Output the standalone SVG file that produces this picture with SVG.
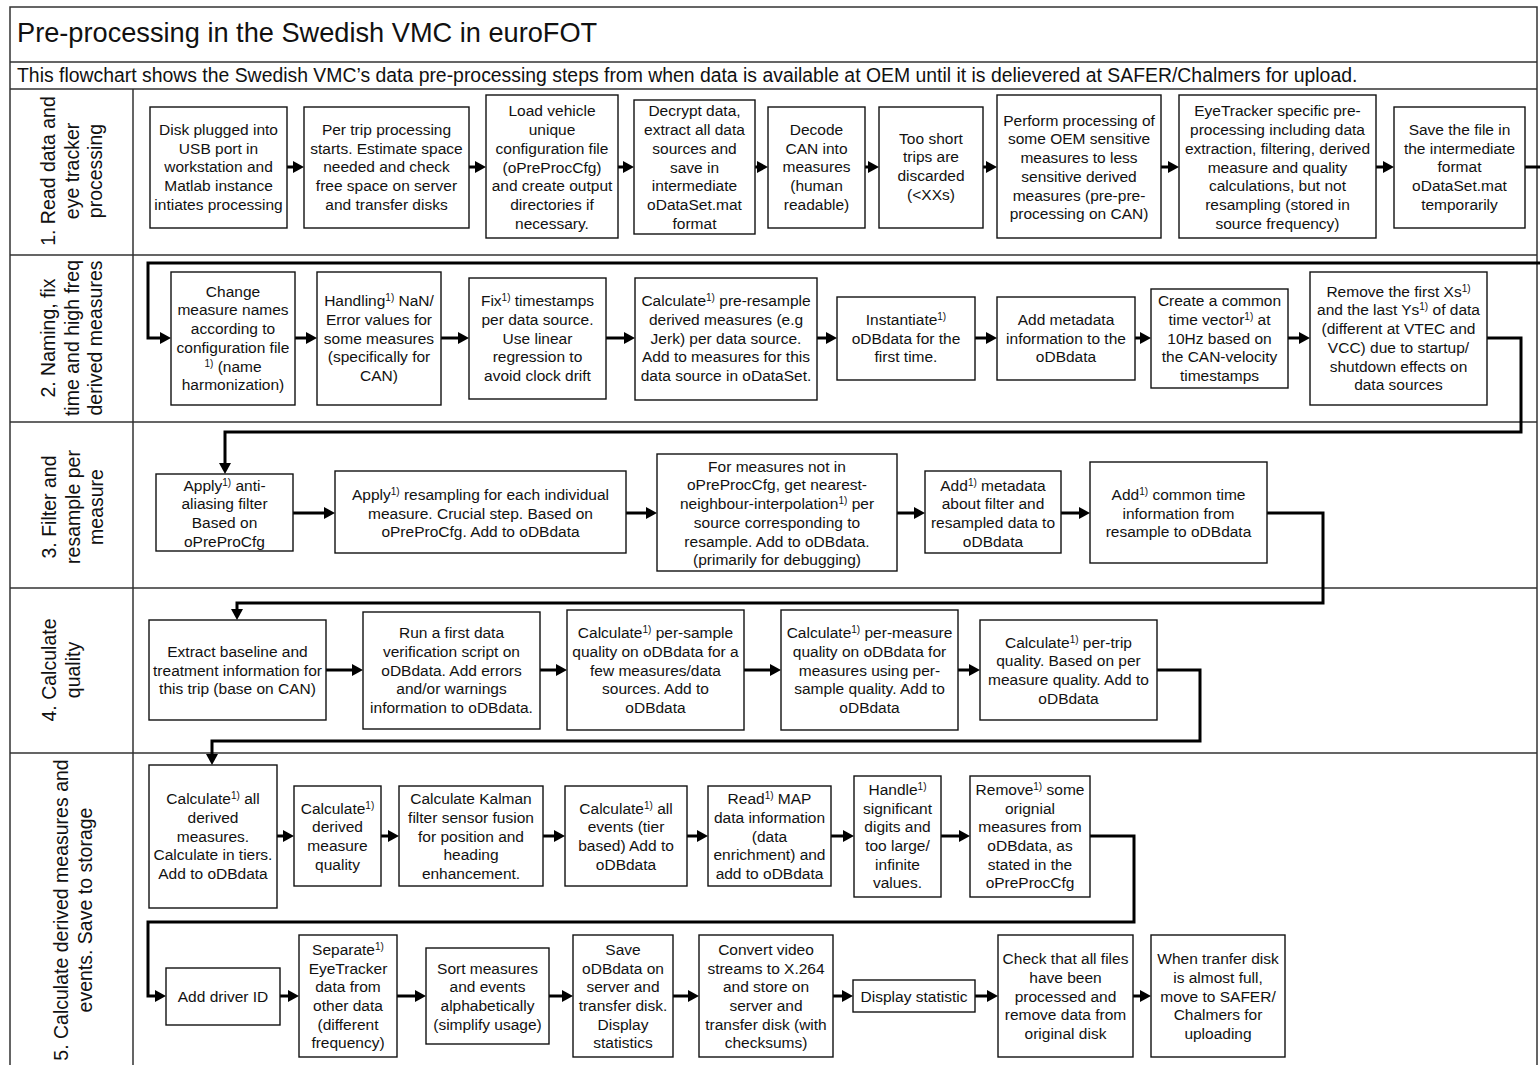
<svg xmlns="http://www.w3.org/2000/svg" width="1540" height="1065" viewBox="0 0 1540 1065">
<style>
.frame{fill:none;stroke:#333;stroke-width:1.5}
.box{fill:#fff;stroke:#111;stroke-width:1.4}
.t{font-family:"Liberation Sans",Arial,sans-serif;font-size:15.5px;text-anchor:middle;fill:#111}
.s{font-size:10px}
.lane{font-family:"Liberation Sans",Arial,sans-serif;font-size:19.5px;text-anchor:middle;fill:#111}
.c{fill:none;stroke:#000;stroke-width:3;marker-end:url(#ah)}
</style>
<defs>
<marker id="ah" viewBox="0 0 11 12" refX="5" refY="6" markerWidth="11" markerHeight="12" markerUnits="userSpaceOnUse" orient="auto">
<path d="M0,0 L11,6 L0,12 z" fill="#000"/>
</marker>
</defs>
<rect width="1540" height="1065" fill="#fff"/>
<g id="frame">
<path class="frame" d="M10,1070 V7 H1537 V1070"/>
<path class="frame" d="M10,62 H1537 M10,89 H1537 M10,255 H1537 M10,422 H1537 M10,588 H1537 M10,753 H1537 M133,89 V1070"/>
<text x="17" y="42" font-family="Liberation Sans,Arial,sans-serif" font-size="27.2" fill="#111">Pre-processing in the Swedish VMC in euroFOT</text>
<text x="17" y="82" font-family="Liberation Sans,Arial,sans-serif" font-size="19.4" fill="#111">This flowchart shows the Swedish VMC’s data pre-processing steps from when data is available at OEM until it is delievered at SAFER/Chalmers for upload.</text>
</g>
<g id="lane-labels">
<text class="lane" transform="translate(0,171) rotate(-90)"><tspan x="0" y="55">1. Read data and</tspan><tspan x="0" y="78.5">eye tracker</tspan><tspan x="0" y="102">processing</tspan></text>
<text class="lane" transform="translate(0,338) rotate(-90)"><tspan x="0" y="55">2. Naming, fix</tspan><tspan x="0" y="78.5">time and high freq</tspan><tspan x="0" y="102">derived measures</tspan></text>
<text class="lane" transform="translate(0,507) rotate(-90)"><tspan x="0" y="56">3. Filter and</tspan><tspan x="0" y="79.5">resample per</tspan><tspan x="0" y="103">measure</tspan></text>
<text class="lane" transform="translate(0,670) rotate(-90)"><tspan x="0" y="56">4. Calculate</tspan><tspan x="0" y="79.5">quality</tspan></text>
<text class="lane" transform="translate(0,910) rotate(-90)"><tspan x="0" y="68">5. Calculate derived measures and</tspan><tspan x="0" y="91.5">events. Save to storage</tspan></text>
</g>
<g id="connectors">
<path class="c" d="M287,167 H298"/>
<path class="c" d="M469,167 H480"/>
<path class="c" d="M618,167 H628"/>
<path class="c" d="M755,167 H762"/>
<path class="c" d="M865,167 H873"/>
<path class="c" d="M983,167 H991"/>
<path class="c" d="M1161,167 H1173"/>
<path class="c" d="M1376,167 H1388"/>
<path class="c" d="M1525,167 H1560 V263 H148 V338 H165"/>
<path class="c" d="M295,338 H311"/>
<path class="c" d="M441,338 H463"/>
<path class="c" d="M606,338 H629"/>
<path class="c" d="M817,338 H831"/>
<path class="c" d="M975,338 H991"/>
<path class="c" d="M1135,338 H1145"/>
<path class="c" d="M1288,338 H1304"/>
<path class="c" d="M1487,338 H1521 V432 H225 V468"/>
<path class="c" d="M293,513 H329"/>
<path class="c" d="M626,513 H651"/>
<path class="c" d="M897,513 H919"/>
<path class="c" d="M1061,513 H1084"/>
<path class="c" d="M1267,513 H1323 V603 H237 V614"/>
<path class="c" d="M326,670 H357"/>
<path class="c" d="M540,670 H561"/>
<path class="c" d="M744,670 H775"/>
<path class="c" d="M958,670 H974"/>
<path class="c" d="M1157,670 H1200 V741 H212 V759"/>
<path class="c" d="M277,836 H288"/>
<path class="c" d="M381,836 H393"/>
<path class="c" d="M543,836 H559"/>
<path class="c" d="M687,836 H702"/>
<path class="c" d="M831,836 H848"/>
<path class="c" d="M941,836 H964"/>
<path class="c" d="M1090,836 H1134 V922 H148 V996 H160"/>
<path class="c" d="M280,996 H293"/>
<path class="c" d="M397,996 H420"/>
<path class="c" d="M549,996 H567"/>
<path class="c" d="M673,996 H693"/>
<path class="c" d="M833,996 H847"/>
<path class="c" d="M975,996 H992"/>
<path class="c" d="M1133,996 H1145"/>
</g>
<g id="n1-1"><rect class="box" x="150" y="107" width="137" height="121"/><text class="t" y="135"><tspan x="218.5">Disk plugged into</tspan><tspan x="218.5" dy="18.7">USB port in</tspan><tspan x="218.5" dy="18.7">workstation and</tspan><tspan x="218.5" dy="18.7">Matlab instance</tspan><tspan x="218.5" dy="18.7">intiates processing</tspan></text></g>
<g id="n1-2"><rect class="box" x="304" y="107" width="165" height="121"/><text class="t" y="135"><tspan x="386.5">Per trip processing</tspan><tspan x="386.5" dy="18.7">starts. Estimate space</tspan><tspan x="386.5" dy="18.7">needed and check</tspan><tspan x="386.5" dy="18.7">free space on server</tspan><tspan x="386.5" dy="18.7">and transfer disks</tspan></text></g>
<g id="n1-3"><rect class="box" x="486" y="95" width="132" height="143"/><text class="t" y="116.4"><tspan x="552">Load vehicle</tspan><tspan x="552" dy="18.7">unique</tspan><tspan x="552" dy="18.7">configuration file</tspan><tspan x="552" dy="18.7">(oPreProcCfg)</tspan><tspan x="552" dy="18.7">and create output</tspan><tspan x="552" dy="18.7">directories if</tspan><tspan x="552" dy="18.7">necessary.</tspan></text></g>
<g id="n1-4"><rect class="box" x="634" y="100" width="121" height="134"/><text class="t" y="116.4"><tspan x="694.5">Decrypt data,</tspan><tspan x="694.5" dy="18.7">extract all data</tspan><tspan x="694.5" dy="18.7">sources and</tspan><tspan x="694.5" dy="18.7">save in</tspan><tspan x="694.5" dy="18.7">intermediate</tspan><tspan x="694.5" dy="18.7">oDataSet.mat</tspan><tspan x="694.5" dy="18.7">format</tspan></text></g>
<g id="n1-5"><rect class="box" x="768" y="107" width="97" height="121"/><text class="t" y="135"><tspan x="816.5">Decode</tspan><tspan x="816.5" dy="18.7">CAN into</tspan><tspan x="816.5" dy="18.7">measures</tspan><tspan x="816.5" dy="18.7">(human</tspan><tspan x="816.5" dy="18.7">readable)</tspan></text></g>
<g id="n1-6"><rect class="box" x="879" y="107" width="104" height="121"/><text class="t" y="143.5"><tspan x="931">Too short</tspan><tspan x="931" dy="18.7">trips are</tspan><tspan x="931" dy="18.7">discarded</tspan><tspan x="931" dy="18.7">(&lt;XXs)</tspan></text></g>
<g id="n1-7"><rect class="box" x="997" y="95" width="164" height="143"/><text class="t" y="125.7"><tspan x="1079">Perform processing of</tspan><tspan x="1079" dy="18.7">some OEM sensitive</tspan><tspan x="1079" dy="18.7">measures to less</tspan><tspan x="1079" dy="18.7">sensitive derived</tspan><tspan x="1079" dy="18.7">measures (pre-pre-</tspan><tspan x="1079" dy="18.7">processing on CAN)</tspan></text></g>
<g id="n1-8"><rect class="box" x="1179" y="95" width="197" height="143"/><text class="t" y="116.4"><tspan x="1277.5">EyeTracker specific pre-</tspan><tspan x="1277.5" dy="18.7">processing including data</tspan><tspan x="1277.5" dy="18.7">extraction, filtering, derived</tspan><tspan x="1277.5" dy="18.7">measure and quality</tspan><tspan x="1277.5" dy="18.7">calculations, but not</tspan><tspan x="1277.5" dy="18.7">resampling (stored in</tspan><tspan x="1277.5" dy="18.7">source frequency)</tspan></text></g>
<g id="n1-9"><rect class="box" x="1394" y="107" width="131" height="121"/><text class="t" y="135"><tspan x="1459.5">Save the file in</tspan><tspan x="1459.5" dy="18.7">the intermediate</tspan><tspan x="1459.5" dy="18.7">format</tspan><tspan x="1459.5" dy="18.7">oDataSet.mat</tspan><tspan x="1459.5" dy="18.7">temporarily</tspan></text></g>
<g id="n2-1"><rect class="box" x="171" y="272" width="124" height="133"/><text class="t" y="296.7"><tspan x="233">Change</tspan><tspan x="233" dy="18.7">measure names</tspan><tspan x="233" dy="18.7">according to</tspan><tspan x="233" dy="18.7">configuration file</tspan><tspan x="233" dy="18.7"><tspan class="s" baseline-shift="super">1)</tspan> (name</tspan><tspan x="233" dy="18.7">harmonization)</tspan></text></g>
<g id="n2-2"><rect class="box" x="317" y="272" width="124" height="133"/><text class="t" y="306.1"><tspan x="379">Handling<tspan class="s" baseline-shift="super">1)</tspan> NaN/</tspan><tspan x="379" dy="18.7">Error values for</tspan><tspan x="379" dy="18.7">some measures</tspan><tspan x="379" dy="18.7">(specifically for</tspan><tspan x="379" dy="18.7">CAN)</tspan></text></g>
<g id="n2-3"><rect class="box" x="469" y="278" width="137" height="121"/><text class="t" y="306.1"><tspan x="537.5">Fix<tspan class="s" baseline-shift="super">1)</tspan> timestamps</tspan><tspan x="537.5" dy="18.7">per data source.</tspan><tspan x="537.5" dy="18.7">Use linear</tspan><tspan x="537.5" dy="18.7">regression to</tspan><tspan x="537.5" dy="18.7">avoid clock drift</tspan></text></g>
<g id="n2-4"><rect class="box" x="635" y="278" width="182" height="122"/><text class="t" y="306.1"><tspan x="726">Calculate<tspan class="s" baseline-shift="super">1)</tspan> pre-resample</tspan><tspan x="726" dy="18.7">derived measures (e.g</tspan><tspan x="726" dy="18.7">Jerk) per data source.</tspan><tspan x="726" dy="18.7">Add to measures for this</tspan><tspan x="726" dy="18.7">data source in oDataSet.</tspan></text></g>
<g id="n2-5"><rect class="box" x="837" y="297" width="138" height="83"/><text class="t" y="324.8"><tspan x="906">Instantiate<tspan class="s" baseline-shift="super">1)</tspan></tspan><tspan x="906" dy="18.7">oDBdata for the</tspan><tspan x="906" dy="18.7">first time.</tspan></text></g>
<g id="n2-6"><rect class="box" x="997" y="297" width="138" height="83"/><text class="t" y="324.8"><tspan x="1066">Add metadata</tspan><tspan x="1066" dy="18.7">information to the</tspan><tspan x="1066" dy="18.7">oDBdata</tspan></text></g>
<g id="n2-7"><rect class="box" x="1151" y="289" width="137" height="99"/><text class="t" y="306.1"><tspan x="1219.5">Create a common</tspan><tspan x="1219.5" dy="18.7">time vector<tspan class="s" baseline-shift="super">1)</tspan> at</tspan><tspan x="1219.5" dy="18.7">10Hz based on</tspan><tspan x="1219.5" dy="18.7">the CAN-velocity</tspan><tspan x="1219.5" dy="18.7">timestamps</tspan></text></g>
<g id="n2-8"><rect class="box" x="1310" y="272" width="177" height="133"/><text class="t" y="296.7"><tspan x="1398.5">Remove the first Xs<tspan class="s" baseline-shift="super">1)</tspan></tspan><tspan x="1398.5" dy="18.7">and the last Ys<tspan class="s" baseline-shift="super">1)</tspan> of data</tspan><tspan x="1398.5" dy="18.7">(different at VTEC and</tspan><tspan x="1398.5" dy="18.7">VCC) due to startup/</tspan><tspan x="1398.5" dy="18.7">shutdown effects on</tspan><tspan x="1398.5" dy="18.7">data sources</tspan></text></g>
<g id="n3-1"><rect class="box" x="156" y="474" width="137" height="77"/><text class="t" y="490.5"><tspan x="224.5">Apply<tspan class="s" baseline-shift="super">1)</tspan> anti-</tspan><tspan x="224.5" dy="18.7">aliasing filter</tspan><tspan x="224.5" dy="18.7">Based on</tspan><tspan x="224.5" dy="18.7">oPreProCfg</tspan></text></g>
<g id="n3-2"><rect class="box" x="335" y="471" width="291" height="82"/><text class="t" y="499.8"><tspan x="480.5">Apply<tspan class="s" baseline-shift="super">1)</tspan> resampling for each individual</tspan><tspan x="480.5" dy="18.7">measure. Crucial step. Based on</tspan><tspan x="480.5" dy="18.7">oPreProCfg. Add to oDBdata</tspan></text></g>
<g id="n3-3"><rect class="box" x="657" y="454" width="240" height="117"/><text class="t" y="471.7"><tspan x="777">For measures not in</tspan><tspan x="777" dy="18.7">oPreProcCfg, get nearest-</tspan><tspan x="777" dy="18.7">neighbour-interpolation<tspan class="s" baseline-shift="super">1)</tspan> per</tspan><tspan x="777" dy="18.7">source corresponding to</tspan><tspan x="777" dy="18.7">resample. Add to oDBdata.</tspan><tspan x="777" dy="18.7">(primarily for debugging)</tspan></text></g>
<g id="n3-4"><rect class="box" x="925" y="471" width="136" height="82"/><text class="t" y="490.5"><tspan x="993">Add<tspan class="s" baseline-shift="super">1)</tspan> metadata</tspan><tspan x="993" dy="18.7">about filter and</tspan><tspan x="993" dy="18.7">resampled data to</tspan><tspan x="993" dy="18.7">oDBdata</tspan></text></g>
<g id="n3-5"><rect class="box" x="1090" y="462" width="177" height="101"/><text class="t" y="499.8"><tspan x="1178.5">Add<tspan class="s" baseline-shift="super">1)</tspan> common time</tspan><tspan x="1178.5" dy="18.7">information from</tspan><tspan x="1178.5" dy="18.7">resample to oDBdata</tspan></text></g>
<g id="n4-1"><rect class="box" x="149" y="620" width="177" height="100"/><text class="t" y="656.8"><tspan x="237.5">Extract baseline and</tspan><tspan x="237.5" dy="18.7">treatment information for</tspan><tspan x="237.5" dy="18.7">this trip (base on CAN)</tspan></text></g>
<g id="n4-2"><rect class="box" x="363" y="612" width="177" height="117"/><text class="t" y="638.1"><tspan x="451.5">Run a first data</tspan><tspan x="451.5" dy="18.7">verification script on</tspan><tspan x="451.5" dy="18.7">oDBdata. Add errors</tspan><tspan x="451.5" dy="18.7">and/or warnings</tspan><tspan x="451.5" dy="18.7">information to oDBdata.</tspan></text></g>
<g id="n4-3"><rect class="box" x="567" y="610" width="177" height="120"/><text class="t" y="638.1"><tspan x="655.5">Calculate<tspan class="s" baseline-shift="super">1)</tspan> per-sample</tspan><tspan x="655.5" dy="18.7">quality on oDBdata for a</tspan><tspan x="655.5" dy="18.7">few measures/data</tspan><tspan x="655.5" dy="18.7">sources. Add to</tspan><tspan x="655.5" dy="18.7">oDBdata</tspan></text></g>
<g id="n4-4"><rect class="box" x="781" y="610" width="177" height="120"/><text class="t" y="638.1"><tspan x="869.5">Calculate<tspan class="s" baseline-shift="super">1)</tspan> per-measure</tspan><tspan x="869.5" dy="18.7">quality on oDBdata for</tspan><tspan x="869.5" dy="18.7">measures using per-</tspan><tspan x="869.5" dy="18.7">sample quality. Add to</tspan><tspan x="869.5" dy="18.7">oDBdata</tspan></text></g>
<g id="n4-5"><rect class="box" x="980" y="620" width="177" height="100"/><text class="t" y="647.5"><tspan x="1068.5">Calculate<tspan class="s" baseline-shift="super">1)</tspan> per-trip</tspan><tspan x="1068.5" dy="18.7">quality. Based on per</tspan><tspan x="1068.5" dy="18.7">measure quality. Add to</tspan><tspan x="1068.5" dy="18.7">oDBdata</tspan></text></g>
<g id="n5-1"><rect class="box" x="149" y="765" width="128" height="143"/><text class="t" y="804.1"><tspan x="213">Calculate<tspan class="s" baseline-shift="super">1)</tspan> all</tspan><tspan x="213" dy="18.7">derived</tspan><tspan x="213" dy="18.7">measures.</tspan><tspan x="213" dy="18.7">Calculate in tiers.</tspan><tspan x="213" dy="18.7">Add to oDBdata</tspan></text></g>
<g id="n5-2"><rect class="box" x="294" y="786" width="87" height="100"/><text class="t" y="813.5"><tspan x="337.5">Calculate<tspan class="s" baseline-shift="super">1)</tspan></tspan><tspan x="337.5" dy="18.7">derived</tspan><tspan x="337.5" dy="18.7">measure</tspan><tspan x="337.5" dy="18.7">quality</tspan></text></g>
<g id="n5-3"><rect class="box" x="399" y="786" width="144" height="100"/><text class="t" y="804.1"><tspan x="471">Calculate Kalman</tspan><tspan x="471" dy="18.7">filter sensor fusion</tspan><tspan x="471" dy="18.7">for position and</tspan><tspan x="471" dy="18.7">heading</tspan><tspan x="471" dy="18.7">enhancement.</tspan></text></g>
<g id="n5-4"><rect class="box" x="565" y="786" width="122" height="100"/><text class="t" y="813.5"><tspan x="626">Calculate<tspan class="s" baseline-shift="super">1)</tspan> all</tspan><tspan x="626" dy="18.7">events (tier</tspan><tspan x="626" dy="18.7">based) Add to</tspan><tspan x="626" dy="18.7">oDBdata</tspan></text></g>
<g id="n5-5"><rect class="box" x="708" y="786" width="123" height="100"/><text class="t" y="804.1"><tspan x="769.5">Read<tspan class="s" baseline-shift="super">1)</tspan> MAP</tspan><tspan x="769.5" dy="18.7">data information</tspan><tspan x="769.5" dy="18.7">(data</tspan><tspan x="769.5" dy="18.7">enrichment) and</tspan><tspan x="769.5" dy="18.7">add to oDBdata</tspan></text></g>
<g id="n5-6"><rect class="box" x="854" y="776" width="87" height="121"/><text class="t" y="794.8"><tspan x="897.5">Handle<tspan class="s" baseline-shift="super">1)</tspan></tspan><tspan x="897.5" dy="18.7">significant</tspan><tspan x="897.5" dy="18.7">digits and</tspan><tspan x="897.5" dy="18.7">too large/</tspan><tspan x="897.5" dy="18.7">infinite</tspan><tspan x="897.5" dy="18.7">values.</tspan></text></g>
<g id="n5-7"><rect class="box" x="970" y="776" width="120" height="121"/><text class="t" y="794.8"><tspan x="1030">Remove<tspan class="s" baseline-shift="super">1)</tspan> some</tspan><tspan x="1030" dy="18.7">orignial</tspan><tspan x="1030" dy="18.7">measures from</tspan><tspan x="1030" dy="18.7">oDBdata, as</tspan><tspan x="1030" dy="18.7">stated in the</tspan><tspan x="1030" dy="18.7">oPreProcCfg</tspan></text></g>
<g id="n5-8"><rect class="box" x="166" y="968" width="114" height="57"/><text class="t" y="1001.5"><tspan x="223">Add driver ID</tspan></text></g>
<g id="n5-9"><rect class="box" x="299" y="935" width="98" height="122"/><text class="t" y="954.8"><tspan x="348">Separate<tspan class="s" baseline-shift="super">1)</tspan></tspan><tspan x="348" dy="18.7">EyeTracker</tspan><tspan x="348" dy="18.7">data from</tspan><tspan x="348" dy="18.7">other data</tspan><tspan x="348" dy="18.7">(different</tspan><tspan x="348" dy="18.7">frequency)</tspan></text></g>
<g id="n5-10"><rect class="box" x="426" y="948" width="123" height="96"/><text class="t" y="973.5"><tspan x="487.5">Sort measures</tspan><tspan x="487.5" dy="18.7">and events</tspan><tspan x="487.5" dy="18.7">alphabetically</tspan><tspan x="487.5" dy="18.7">(simplify usage)</tspan></text></g>
<g id="n5-11"><rect class="box" x="573" y="935" width="100" height="122"/><text class="t" y="954.8"><tspan x="623">Save</tspan><tspan x="623" dy="18.7">oDBdata on</tspan><tspan x="623" dy="18.7">server and</tspan><tspan x="623" dy="18.7">transfer disk.</tspan><tspan x="623" dy="18.7">Display</tspan><tspan x="623" dy="18.7">statistics</tspan></text></g>
<g id="n5-12"><rect class="box" x="699" y="935" width="134" height="122"/><text class="t" y="954.8"><tspan x="766">Convert video</tspan><tspan x="766" dy="18.7">streams to X.264</tspan><tspan x="766" dy="18.7">and store on</tspan><tspan x="766" dy="18.7">server and</tspan><tspan x="766" dy="18.7">transfer disk (with</tspan><tspan x="766" dy="18.7">checksums)</tspan></text></g>
<g id="n5-13"><rect class="box" x="853" y="980" width="122" height="32"/><text class="t" y="1001.5"><tspan x="914">Display statistic</tspan></text></g>
<g id="n5-14"><rect class="box" x="998" y="935" width="135" height="122"/><text class="t" y="964.1"><tspan x="1065.5">Check that all files</tspan><tspan x="1065.5" dy="18.7">have been</tspan><tspan x="1065.5" dy="18.7">processed and</tspan><tspan x="1065.5" dy="18.7">remove data from</tspan><tspan x="1065.5" dy="18.7">original disk</tspan></text></g>
<g id="n5-15"><rect class="box" x="1151" y="935" width="134" height="122"/><text class="t" y="964.1"><tspan x="1218">When tranfer disk</tspan><tspan x="1218" dy="18.7">is almost full,</tspan><tspan x="1218" dy="18.7">move to SAFER/</tspan><tspan x="1218" dy="18.7">Chalmers for</tspan><tspan x="1218" dy="18.7">uploading</tspan></text></g>
</svg>
